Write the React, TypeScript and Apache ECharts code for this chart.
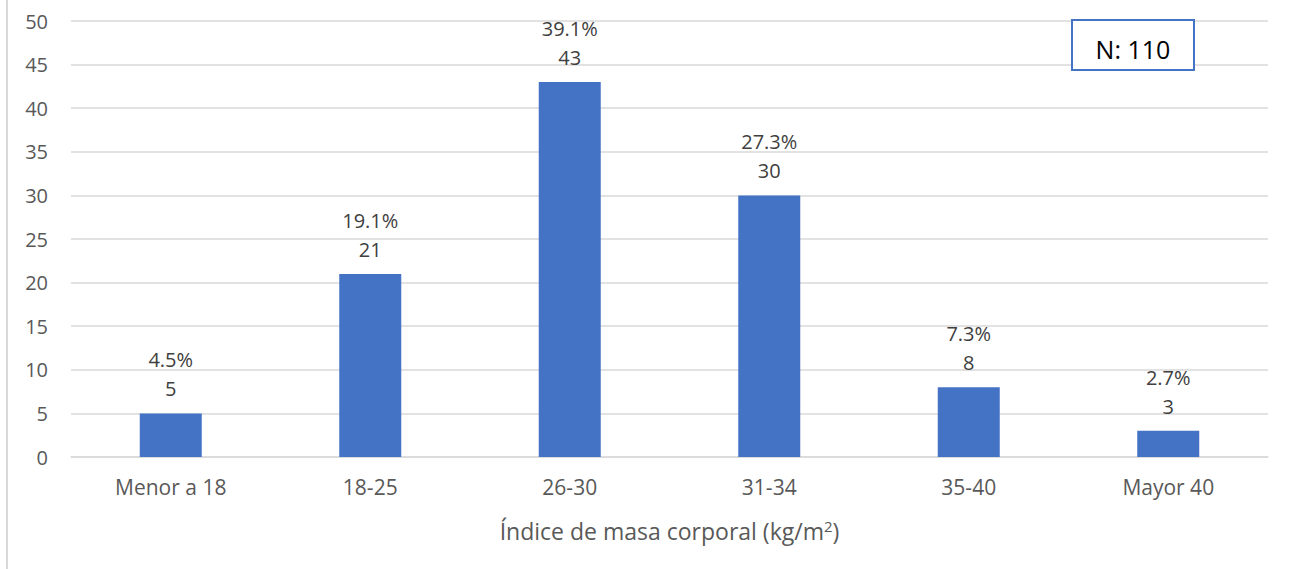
import React, { useEffect, useRef } from "react";
import * as echarts from "echarts";

const categories = ["Menor a 18", "18-25", "26-30", "31-34", "35-40", "Mayor 40"];
const counts = [5, 21, 43, 30, 8, 3];
const percents = ["4.5%", "19.1%", "39.1%", "27.3%", "7.3%", "2.7%"];
const axisTitle = "Índice de masa corporal (kg/m";
const sampleLabel = "N: 110";

export default function App() {
  const ref = useRef<HTMLDivElement>(null);
  useEffect(() => {
    document.body.style.margin = "0";
    const chart = echarts.init(ref.current!, null, { renderer: "svg" });
    const font = "'Open Sans', 'Liberation Sans', sans-serif";
    chart.setOption({
      animation: false,
      backgroundColor: "#ffffff",
      textStyle: { fontFamily: font },
      grid: { left: 71, right: 29, top: 21, bottom: 112, containLabel: false },
      xAxis: {
        type: "category",
        data: categories,
        axisTick: { show: false },
        axisLine: { lineStyle: { color: "#d9d9d9", width: 1.5 } },
        axisLabel: { color: "#595959", fontSize: 21, fontFamily: font, margin: 19 },
        name: axisTitle + "{sup|2})",
        nameLocation: "middle",
        nameGap: 61,
        nameTextStyle: {
          color: "#595959",
          fontSize: 23,
          fontFamily: font,
          rich: {
            sup: { fontSize: 15, color: "#595959", fontFamily: font, verticalAlign: "top", padding: [0, 0, 10, 0] },
          },
        },
      },
      yAxis: {
        type: "value",
        min: 0,
        max: 50,
        interval: 5,
        axisLine: { show: false },
        axisTick: { show: false },
        splitLine: { lineStyle: { color: "#d9d9d9", width: 1.5 } },
        axisLabel: { color: "#595959", fontSize: 20, fontFamily: font, margin: 23, align: "right" },
      },
      series: [
        {
          type: "bar",
          data: counts,
          barWidth: 62,
          itemStyle: { color: "#4472C4" },
          label: {
            show: true,
            position: "top",
            distance: 10,
            formatter: (p: any) => `{p|${percents[p.dataIndex]}}\n{v|${p.value}}`,
            rich: {
              p: { color: "#404040", fontSize: 20, fontFamily: font, lineHeight: 29 },
              v: { color: "#404040", fontSize: 20, fontFamily: font, lineHeight: 29 },
            },
          },
        },
      ],
      graphic: [
        {
          type: "rect",
          shape: { x: 6, y: 0, width: 2, height: 569 },
          style: { fill: "#d9d9d9" },
          silent: true,
        },
        {
          type: "rect",
          shape: { x: 1072, y: 20, width: 122, height: 50 },
          style: { fill: "#ffffff", stroke: "#4472C4", lineWidth: 2 },
          z: 10,
        },
        {
          type: "text",
          x: 1133,
          y: 49,
          style: {
            text: sampleLabel,
            fill: "#000000",
            fontSize: 25,
            fontFamily: font,
            align: "center",
            verticalAlign: "middle",
          },
          z: 11,
        },
      ],
    });
    return () => chart.dispose();
  }, []);
  return <div ref={ref} style={{ width: 1297, height: 569 }} />;
}
